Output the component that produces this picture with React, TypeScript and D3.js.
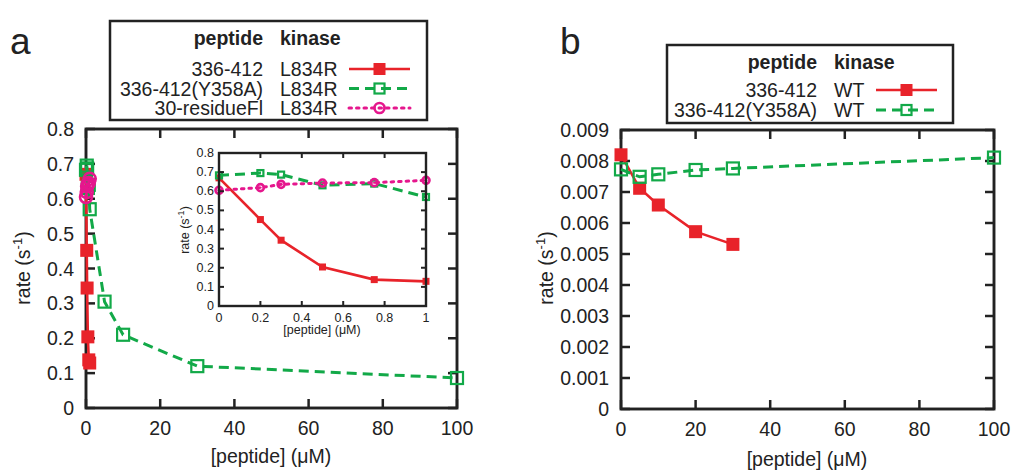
import * as d3 from 'd3';

// panel a: L834R kinase
const concLow = [0, 0.2, 0.3, 0.5, 0.75, 1];
const rateA_336 = [0.67, 0.452, 0.344, 0.204, 0.138, 0.129];
const rateA_30res = [0.605, 0.619, 0.636, 0.643, 0.645, 0.657];
const concA_Y358A = [0, 0.2, 0.3, 0.5, 0.75, 1, 5, 10, 30, 100];
const rateA_Y358A = [0.683, 0.695, 0.687, 0.631, 0.64, 0.57, 0.305, 0.21, 0.12, 0.086];

// panel b: WT kinase
const concB_336 = [0, 5, 10, 20, 30];
const rateB_336 = [0.0082, 0.00712, 0.00658, 0.00572, 0.00531];
const concB_Y358A = [0, 5, 10, 20, 30, 100];
const rateB_Y358A = [0.00773, 0.00749, 0.00757, 0.00771, 0.00776, 0.00811];

const xTicksMain = [0, 20, 40, 60, 80, 100];
const yTicksA = [0, 0.1, 0.2, 0.3, 0.4, 0.5, 0.6, 0.7, 0.8];
const yTicksB = [0, 0.001, 0.002, 0.003, 0.004, 0.005, 0.006, 0.007, 0.008, 0.009];
const xTicksInset = [0, 0.2, 0.4, 0.6, 0.8, 1];

const legendA = [
  { peptide: '336-412', kinase: 'L834R', key: 'red' },
  { peptide: '336-412(Y358A)', kinase: 'L834R', key: 'green' },
  { peptide: '30-residueFl', kinase: 'L834R', key: 'pink' },
];
const legendB = [
  { peptide: '336-412', kinase: 'WT', key: 'red' },
  { peptide: '336-412(Y358A)', kinase: 'WT', key: 'green' },
];

const FONT = '"Liberation Sans", Arial, Helvetica, sans-serif';
const styles: Record<string, { color: string; dash?: string; width: number; marker: string }> = {
  red: { color: '#e8232a', width: 2.6, marker: 'fsquare' },
  green: { color: '#12a948', dash: '10,6', width: 3, marker: 'osquare' },
  pink: { color: '#e5178d', dash: '2.5,5', width: 3, marker: 'circle' },
};

function Marker({ x, y, kind, color, size }: { x: number; y: number; kind: string; color: string; size: number }) {
  if (kind === 'fsquare')
    return <rect x={x - size / 2} y={y - size / 2} width={size} height={size} fill={color} />;
  if (kind === 'osquare')
    return (
      <rect x={x - size / 2 + 1} y={y - size / 2 + 1} width={size - 2} height={size - 2}
        fill="none" stroke={color} strokeWidth={2.2} />
    );
  return (
    <g>
      <circle cx={x} cy={y} r={size / 2 - 1} fill="none" stroke={color} strokeWidth={2.6} />
      <circle cx={x} cy={y} r={1.2} fill={color} />
    </g>
  );
}

function Series({ xs, ys, x, y, key2, size }: any) {
  const s = styles[key2];
  const line = d3.line<number>().x((d, i) => x(xs[i])).y((d) => y(d));
  return (
    <g>
      <path d={line(ys) || ''} fill="none" stroke={s.color} strokeWidth={s.width}
        strokeDasharray={s.dash} strokeLinecap={key2 === 'pink' ? 'round' : 'butt'} />
      {ys.map((v: number, i: number) => (
        <Marker key={i} x={x(xs[i])} y={y(v)} kind={s.marker} color={s.color} size={size} />
      ))}
    </g>
  );
}

function Frame({ x, y, xt, yt, fmtY, tick, fs, sw, gapY, gapX }: any) {
  const [x0, x1] = x.range();
  const [y0, y1] = y.range();
  return (
    <g fontFamily={FONT} fontSize={fs} fill="#222">
      {xt.map((t: number) => (
        <g key={'x' + t}>
          <line x1={x(t)} x2={x(t)} y1={y0} y2={y0 - tick} stroke="#222" strokeWidth={sw} />
          <line x1={x(t)} x2={x(t)} y1={y1} y2={y1 + tick} stroke="#222" strokeWidth={sw} />
          <text x={x(t)} y={y0 + gapX} textAnchor="middle" dominantBaseline="central">{t}</text>
        </g>
      ))}
      {yt.map((t: number) => (
        <g key={'y' + t}>
          <line x1={x0} x2={x0 + tick} y1={y(t)} y2={y(t)} stroke="#222" strokeWidth={sw} />
          <line x1={x1} x2={x1 - tick} y1={y(t)} y2={y(t)} stroke="#222" strokeWidth={sw} />
          <text x={x0 - gapY} y={y(t)} textAnchor="end" dominantBaseline="central">{fmtY(t)}</text>
        </g>
      ))}
      <rect x={x0} y={y1} width={x1 - x0} height={y0 - y1} fill="none" stroke="#222" strokeWidth={sw + 0.4} />
    </g>
  );
}

function Legend({ rows, x, y, w, h, colX, sampleX, rowY, rowStep }: any) {
  return (
    <g fontFamily={FONT} fontSize={19.5} fill="#222">
      <rect x={x} y={y} width={w} height={h} fill="white" stroke="#222" strokeWidth={2.5} />
      <text x={colX} y={y + 17} textAnchor="end" fontWeight="bold" dominantBaseline="central">peptide</text>
      <text x={colX + 17} y={y + 17} fontWeight="bold" dominantBaseline="central">kinase</text>
      {rows.map((r: any, i: number) => {
        const s = styles[r.key];
        const cy = y + rowY + i * rowStep;
        return (
          <g key={r.peptide}>
            <text x={colX} y={cy} textAnchor="end" dominantBaseline="central">{r.peptide}</text>
            <text x={colX + 17} y={cy} dominantBaseline="central">{r.kinase}</text>
            <line x1={sampleX} x2={sampleX + 61} y1={cy} y2={cy} stroke={s.color} strokeWidth={s.width}
              strokeDasharray={s.dash} strokeLinecap={r.key === 'pink' ? 'round' : 'butt'} />
            <Marker x={sampleX + 30.5} y={cy} kind={s.marker} color={s.color} size={12} />
          </g>
        );
      })}
    </g>
  );
}

export default function App() {
  const xA = d3.scaleLinear().domain([0, 100]).range([86, 457]);
  const yA = d3.scaleLinear().domain([0, 0.8]).range([408, 129]);
  const xI = d3.scaleLinear().domain([0, 1]).range([219, 426]);
  const yI = d3.scaleLinear().domain([0, 0.8]).range([306, 153]);
  const xB = d3.scaleLinear().domain([0, 100]).range([621, 994]);
  const yB = d3.scaleLinear().domain([0, 0.009]).range([409, 130]);
  const fmtA = (t: number) => d3.format('')(+t.toFixed(1));
  const fmtB = (t: number) => (t === 0 ? '0' : t.toFixed(3));

  return (
    <div style={{ position: 'absolute', left: 0, top: 0 }}>
      <svg width={1018} height={473} style={{ display: 'block', background: 'white' }}>
        {/* panel a */}
        <text x={10} y={54} fontFamily={FONT} fontSize={37} fill="#222">a</text>
        <Frame x={xA} y={yA} xt={xTicksMain} yt={yTicksA} fmtY={fmtA} tick={9} fs={19.5} sw={2.5} gapY={12} gapX={20} />
        <Series xs={concLow} ys={rateA_336} x={xA} y={yA} key2="red" size={13} />
        <Series xs={concA_Y358A} ys={rateA_Y358A} x={xA} y={yA} key2="green" size={14} />
        <Series xs={concLow} ys={rateA_30res} x={xA} y={yA} key2="pink" size={14} />
        <text transform="translate(30,268) rotate(-90)" textAnchor="middle" fontFamily={FONT} fontSize={19.5} fill="#222">
          rate (s<tspan dy={-8} fontSize={13}>-1</tspan><tspan dy={8}>)</tspan>
        </text>
        <text x={271} y={463} textAnchor="middle" fontFamily={FONT} fontSize={19.5} fill="#222">[peptide] (μM)</text>

        {/* inset */}
        <rect x={219} y={153} width={207} height={153} fill="white" />
        <Series xs={concLow} ys={rateA_336} x={xI} y={yI} key2="red" size={7} />
        <Series xs={concLow} ys={rateA_Y358A.slice(0, 6)} x={xI} y={yI} key2="green" size={8} />
        <Series xs={concLow} ys={rateA_30res} x={xI} y={yI} key2="pink" size={9} />
        <Frame x={xI} y={yI} xt={xTicksInset} yt={yTicksA} fmtY={fmtA} tick={5} fs={12.5} sw={2} gapY={5} gapX={12} />
        <text transform="translate(189,230) rotate(-90)" textAnchor="middle" fontFamily={FONT} fontSize={12.5} fill="#222">
          rate (s<tspan dy={-5} fontSize={9}>-1</tspan><tspan dy={5}>)</tspan>
        </text>
        <text x={322} y={334} textAnchor="middle" fontFamily={FONT} fontSize={12.5} fill="#222">[peptide] (μM)</text>

        <Legend rows={legendA} x={110} y={21} w={317} h={99} colX={263} sampleX={349} rowY={48} rowStep={19.5} />

        {/* panel b */}
        <text x={560} y={54} fontFamily={FONT} fontSize={37} fill="#222">b</text>
        <Frame x={xB} y={yB} xt={xTicksMain} yt={yTicksB} fmtY={fmtB} tick={9} fs={19.5} sw={2.5} gapY={12} gapX={20} />
        <Series xs={concB_336} ys={rateB_336} x={xB} y={yB} key2="red" size={13} />
        <Series xs={concB_Y358A} ys={rateB_Y358A} x={xB} y={yB} key2="green" size={14} />
        <text transform="translate(553,268) rotate(-90)" textAnchor="middle" fontFamily={FONT} fontSize={19.5} fill="#222">
          rate (s<tspan dy={-8} fontSize={13}>-1</tspan><tspan dy={8}>)</tspan>
        </text>
        <text x={807} y={466} textAnchor="middle" fontFamily={FONT} fontSize={19.5} fill="#222">[peptide] (μM)</text>

        <Legend rows={legendB} x={667} y={45} w={286} h={78} colX={817} sampleX={876} rowY={45} rowStep={20} />
      </svg>
    </div>
  );
}
